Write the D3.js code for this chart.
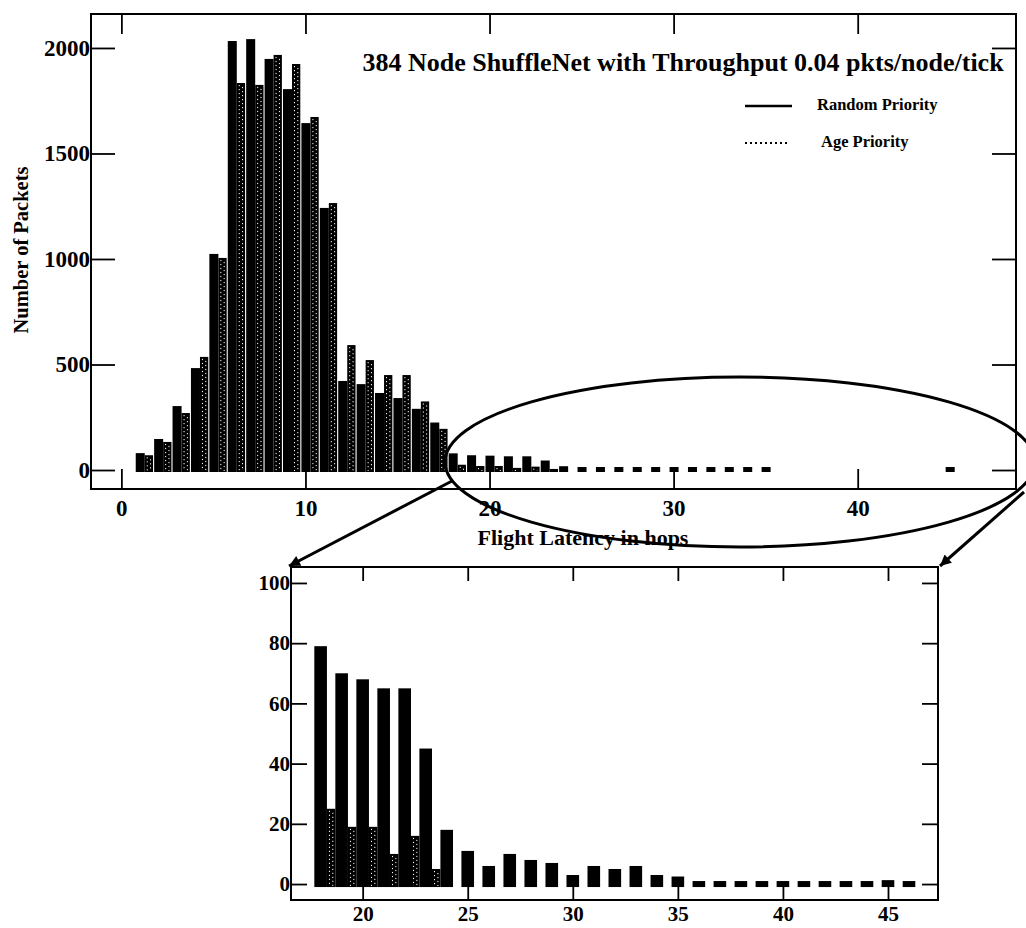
<!DOCTYPE html>
<html lang="en">
<head>
<meta charset="UTF-8">
<title>384 Node ShuffleNet - Flight Latency</title>
<script src="https://d3js.org/d3.v7.min.js"></script>
<style>
    body { margin: 0; background: #fff; }
    svg { display: block; }
    text { font-family: "Liberation Serif", "Times New Roman", serif; font-weight: bold; fill: #000; }
</style>
</head>
<body>
<svg id="chart" width="1026" height="928"></svg>
<script>
// flight latency (hops) and packet counts
const hops = [1, 2, 3, 4, 5, 6, 7, 8, 9, 10, 11, 12, 13, 14, 15, 16, 17, 18, 19, 20, 21, 22, 23,
    24, 25, 26, 27, 28, 29, 30, 31, 32, 33, 34, 35, 36, 37, 38, 39, 40, 41, 42, 43, 44, 45, 46]
const randomPriority = [80, 147, 303, 483, 1024, 2033, 2042, 1948, 1805, 1644, 1242, 422, 407, 365, 341, 290, 225,
    79, 70, 68, 65, 65, 45, 18, 11, 6, 10, 8, 7, 3, 6, 5, 6, 3, 2.5, 0, 0, 0, 0, 0, 0, 0, 0, 0, 1.3, 0]
const agePriority = [70, 133, 270, 536, 1005, 1834, 1825, 1967, 1924, 1673, 1265, 592, 521, 450, 450, 325, 195,
    25, 19, 19, 10, 16, 5, 0, 0, 0, 0, 0, 0, 0, 0, 0, 0, 0, 0, 0, 0, 0, 0, 0, 0, 0, 0, 0, 0, 0]

const mainXTicks = [0, 10, 20, 30, 40]
const mainYTicks = [0, 500, 1000, 1500, 2000]
const insetXTicks = [20, 25, 30, 35, 40, 45]
const insetYTicks = [0, 20, 40, 60, 80, 100]
const insetFirstHop = 18

const rows = hops.map((h, i) => ({ hop: h, random: randomPriority[i], age: agePriority[i] }))

const svg = d3.select("#chart")

// hatched "age priority" bar: black column with white specks
function drawAgeBar(g, x0, x1, yTop, yBottom) {
    g.append("rect")
        .attr("x", x0).attr("y", yTop)
        .attr("width", x1 - x0).attr("height", yBottom - yTop)
        .attr("fill", "#000")
    const w = x1 - x0
    ;[0.3, 0.7].forEach((f, k) => {
        g.append("line")
            .attr("x1", x0 + w * f).attr("x2", x0 + w * f)
            .attr("y1", yTop + 2).attr("y2", yBottom - 1)
            .attr("stroke", "#fff")
            .attr("stroke-width", 1)
            .attr("stroke-dasharray", "1.2,2.8")
            .attr("stroke-dashoffset", k * 2)
    })
}

function drawFrame(box, x, y, xTicks, yTicks, tickLen, fontSize, labelPad) {
    const g = svg.append("g")
    const fmt = d3.format("d")

    g.append("g")
        .attr("transform", `translate(0,${box.bottom})`)
        .call(d3.axisBottom(x).tickValues(xTicks).tickFormat(fmt)
            .tickSizeInner(-tickLen.x).tickSizeOuter(0).tickPadding(labelPad.x))
    g.append("g")
        .attr("transform", `translate(0,${box.top})`)
        .call(d3.axisTop(x).tickValues(xTicks).tickSizeInner(-tickLen.x).tickSizeOuter(0).tickFormat(() => ""))
    g.append("g")
        .attr("transform", `translate(${box.left},0)`)
        .call(d3.axisLeft(y).tickValues(yTicks).tickFormat(fmt)
            .tickSizeInner(-tickLen.y).tickSizeOuter(0).tickPadding(labelPad.y))
    g.append("g")
        .attr("transform", `translate(${box.right},0)`)
        .call(d3.axisRight(y).tickValues(yTicks).tickSizeInner(-tickLen.y).tickSizeOuter(0).tickFormat(() => ""))

    g.selectAll(".domain").remove()
    g.selectAll("g").attr("font-size", fontSize).attr("font-family", null)
    g.selectAll(".tick line").attr("stroke", "#000").attr("stroke-width", 1.8)

    g.append("rect")
        .attr("x", box.left).attr("y", box.top)
        .attr("width", box.right - box.left).attr("height", box.bottom - box.top)
        .attr("fill", "none").attr("stroke", "#000").attr("stroke-width", 2)
}

// ---------- main histogram ----------
const main = { left: 91, top: 14, right: 1016, bottom: 489 }
const xMain = d3.scaleLinear().domain([-1.65, 48.6]).range([main.left, main.right])
const yMain = d3.scaleLinear().domain([-90, 2161]).range([main.bottom, main.top])

const mainBars = svg.append("g")
rows.forEach(d => {
    const base = yMain(0) + 2
    if (d.random > 0) {
        mainBars.append("rect")
            .attr("x", xMain(d.hop - 0.22))
            .attr("y", Math.min(yMain(d.random), base - 5))
            .attr("width", xMain(d.hop + 0.27) - xMain(d.hop - 0.22))
            .attr("height", base - Math.min(yMain(d.random), base - 5))
            .attr("fill", "#000")
    }
    if (d.age > 0) {
        drawAgeBar(mainBars, xMain(d.hop + 0.27), xMain(d.hop + 0.72), yMain(d.age), base)
    }
})

drawFrame(main, xMain, yMain, mainXTicks, mainYTicks, { x: 20, y: 24 }, 23, { x: 11, y: 1 })

svg.append("text")
    .attr("x", 683).attr("y", 71)
    .attr("text-anchor", "middle")
    .attr("font-size", 26)
    .text("384 Node ShuffleNet with Throughput 0.04 pkts/node/tick")

svg.append("text")
    .attr("transform", "translate(28,250) rotate(-90)")
    .attr("text-anchor", "middle")
    .attr("font-size", 20.5)
    .text("Number of Packets")

svg.append("text")
    .attr("x", 583).attr("y", 545)
    .attr("text-anchor", "middle")
    .attr("font-size", 22)
    .text("Flight Latency in hops")

// legend
const legend = svg.append("g")
legend.append("line")
    .attr("x1", 745).attr("x2", 792).attr("y1", 106).attr("y2", 106)
    .attr("stroke", "#000").attr("stroke-width", 2.5)
legend.append("text")
    .attr("x", 817).attr("y", 110)
    .attr("font-size", 16.5)
    .text("Random Priority")
legend.append("line")
    .attr("x1", 745).attr("x2", 789).attr("y1", 143).attr("y2", 143)
    .attr("stroke", "#000").attr("stroke-width", 2)
    .attr("stroke-dasharray", "2,3")
legend.append("text")
    .attr("x", 821).attr("y", 147)
    .attr("font-size", 16.5)
    .text("Age Priority")

// ---------- inset (tail of the distribution) ----------
const inset = { left: 291, top: 567, right: 938, bottom: 900 }
const xInset = d3.scaleLinear().domain([16.59, 47.38]).range([inset.left, inset.right])
const yInset = d3.scaleLinear().domain([-5.3, 105.3]).range([inset.bottom, inset.top])

const insetBars = svg.append("g")
rows.filter(d => d.hop >= insetFirstHop).forEach(d => {
    const base = yInset(0) + 3
    const top = Math.min(yInset(d.random), base - 6)
    insetBars.append("rect")
        .attr("x", xInset(d.hop - 0.3))
        .attr("y", top)
        .attr("width", xInset(d.hop + 0.3) - xInset(d.hop - 0.3))
        .attr("height", base - top)
        .attr("fill", "#000")
    if (d.age > 0) {
        drawAgeBar(insetBars, xInset(d.hop + 0.3), xInset(d.hop + 0.7), yInset(d.age), base)
    }
})

drawFrame(inset, xInset, yInset, insetXTicks, insetYTicks, { x: 14, y: 16 }, 21, { x: 6, y: 1 })

// ---------- zoom ellipse and arrows ----------
svg.append("defs").append("marker")
    .attr("id", "head")
    .attr("viewBox", "0 0 10 10")
    .attr("refX", 10).attr("refY", 5)
    .attr("markerWidth", 16).attr("markerHeight", 11)
    .attr("markerUnits", "userSpaceOnUse")
    .attr("orient", "auto")
    .append("path")
    .attr("d", "M0,0 L10,5 L0,10 Z")
    .attr("fill", "#000")

svg.append("ellipse")
    .attr("cx", 740).attr("cy", 462)
    .attr("rx", 295).attr("ry", 85)
    .attr("fill", "none").attr("stroke", "#000").attr("stroke-width", 3)

svg.append("line")
    .attr("x1", 452).attr("y1", 481).attr("x2", 289).attr("y2", 566)
    .attr("stroke", "#000").attr("stroke-width", 3)
    .attr("marker-end", "url(#head)")
svg.append("line")
    .attr("x1", 1024).attr("y1", 492).attr("x2", 940).attr("y2", 566)
    .attr("stroke", "#000").attr("stroke-width", 3)
    .attr("marker-end", "url(#head)")
</script>
</body>
</html>
